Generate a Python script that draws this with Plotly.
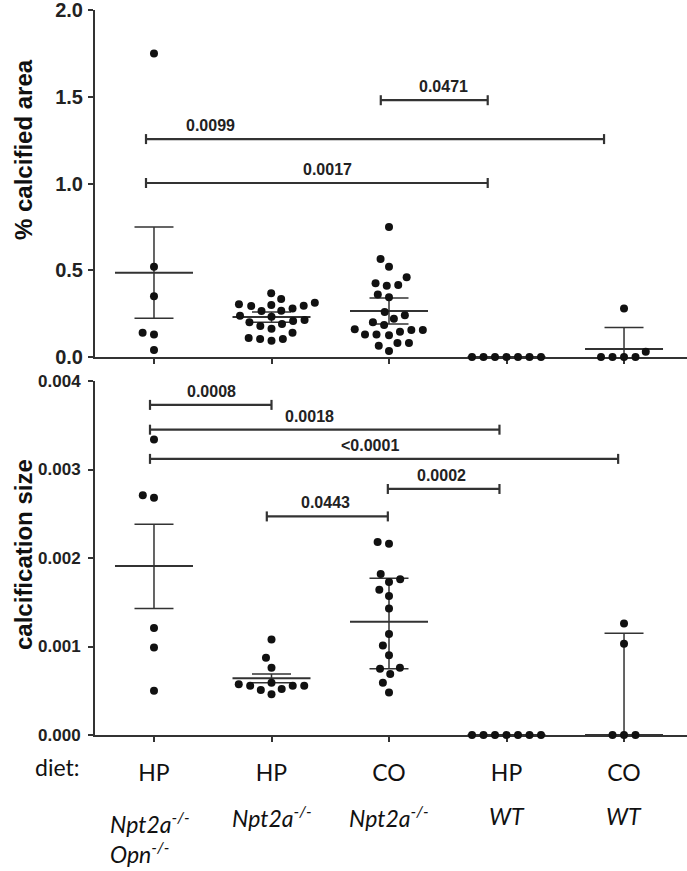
import plotly.graph_objects as go

# ---------------- data ----------------
diet_labels = ["HP", "HP", "CO", "HP", "CO"]
genotype_labels = ["<i>Npt2a<sup>-/-</sup><br>Opn<sup>-/-</sup></i>",
                   "<i>Npt2a<sup>-/-</sup></i>", "<i>Npt2a<sup>-/-</sup></i>",
                   "<i>WT</i>", "<i>WT</i>"]

area_g1 = [1.75, 0.52, 0.35, 0.14, 0.13, 0.04]
area_g2 = [0.367, 0.334, 0.313, 0.30, 0.294, 0.296, 0.304, 0.267, 0.265, 0.28, 0.238,
           0.213, 0.20, 0.232, 0.207, 0.179, 0.163, 0.19, 0.14, 0.104, 0.094, 0.104, 0.11]
area_g3 = [0.75, 0.565, 0.52, 0.46, 0.415, 0.425, 0.41, 0.36, 0.345, 0.24, 0.26, 0.22,
           0.20, 0.185, 0.155, 0.145, 0.13, 0.125, 0.13, 0.155, 0.16, 0.08, 0.065, 0.08, 0.035]
area_g4 = [0, 0, 0, 0, 0, 0, 0]
area_g5 = [0.28, 0.03, 0, 0, 0, 0]
area_values = [area_g1, area_g2, area_g3, area_g4, area_g5]
area_center = [0.486, 0.23, 0.265, 0.0, 0.046]
area_err_plus = [0.263, 0.03, 0.075, 0.0, 0.124]
area_err_minus = [0.262, 0.03, 0.075, 0.0, 0.124]
area_ticks = [0.0, 0.5, 1.0, 1.5, 2.0]

size_g1 = [0.00334, 0.00271, 0.00268, 0.00121, 0.00099, 0.00050]
size_g2 = [0.00108, 0.000874, 0.00076, 0.000573, 0.000557, 0.00052, 0.00059,
           0.000508, 0.000557, 0.000557, 0.00046]
size_g3 = [0.00218, 0.00216, 0.00182, 0.00176, 0.00173, 0.00164, 0.00157, 0.00143,
           0.00114, 0.00101, 0.00090, 0.00075, 0.00076, 0.00069, 0.00059, 0.00048]
size_g4 = [0, 0, 0, 0, 0, 0, 0]
size_g5 = [0.00126, 0.00103, 0, 0, 0]
size_values = [size_g1, size_g2, size_g3, size_g4, size_g5]
size_center = [0.00191, 0.00064, 0.00128, 0.0, 0.0]
size_err_plus = [0.00047, 0.00005, 0.00049, 0.0, 0.00115]
size_err_minus = [0.00048, 0.00005, 0.00053, 0.0, 0.0]
size_ticks = [0.0, 0.001, 0.002, 0.003, 0.004]

# comparisons: (x_start, x_end, y, label, label_x)
area_comparisons = [
    (1.93, 2.84, 1.48, "0.0471", 2.46),
    (-0.068, 3.83, 1.256, "0.0099", 0.48),
    (-0.068, 2.84, 1.003, "0.0017", 1.48),
]
size_comparisons = [
    (-0.034, 1.0, 0.00373, "0.0008", 0.49),
    (-0.034, 2.94, 0.00345, "0.0018", 1.32),
    (-0.034, 3.95, 0.00312, "&lt;0.0001", 1.84),
    (1.99, 2.94, 0.00278, "0.0002", 2.45),
    (0.96, 1.99, 0.00247, "0.0443", 1.46),
]

# ---------------- layout geometry ----------------
W, H = 687, 871
PLOT_LEFT, PLOT_RIGHT = 95, 687        # page pixels
top_y_px = (10, 357)                   # pixel rows of top plot (top, bottom)
bot_y_px = (381, 735)
ML = PLOT_LEFT
MR = W - PLOT_RIGHT
MT = top_y_px[0]
MB = H - bot_y_px[1]
plot_h = H - MT - MB
plot_w = W - ML - MR
X_RANGE = [-0.502, 4.536]
AREA_RANGE = [0, 2.0]
SIZE_RANGE = [0, 0.004]


def frac(ypx):
    return (bot_y_px[1] - ypx) / plot_h


def xfrac(xpx):
    return (xpx - PLOT_LEFT) / plot_w


top_dom = [frac(top_y_px[1]), frac(top_y_px[0])]
bot_dom = [frac(bot_y_px[1]), frac(bot_y_px[0])]
ppu_x = plot_w / (X_RANGE[1] - X_RANGE[0])
ppu_area = (top_y_px[1] - top_y_px[0]) / (AREA_RANGE[1] - AREA_RANGE[0])
ppu_size = (bot_y_px[1] - bot_y_px[0]) / (SIZE_RANGE[1] - SIZE_RANGE[0])

DOT_D = 11.5  # swarm spacing in px


def swarm_offsets(vals, ppu_y):
    order = sorted(range(len(vals)), key=lambda i: vals[i])
    placed = []
    offs = [0.0] * len(vals)
    for i in order:
        y = vals[i] * ppu_y
        forb = []
        for (px, py) in placed:
            dy = abs(py - y)
            if dy < DOT_D:
                h = (DOT_D ** 2 - dy ** 2) ** 0.5
                forb.append((px - h, px + h))
        cands = [0.0] + [a for a, b in forb] + [b for a, b in forb]
        ok = [c for c in cands if all(not (a + 1e-6 < c < b - 1e-6) for a, b in forb)]
        best = min(ok, key=lambda c: (round(abs(c), 4), c))
        placed.append((best, y))
        offs[i] = best / ppu_x
    return offs


fig = go.Figure()
INK = "#111111"
LINE = "#333333"
MEAN_HALF = 39 / ppu_x
CAP_PX = 19.5
LABEL_FONT = "Liberation Sans"
LOWER_FONT = "Lato"


def add_panel(values, center, eplus, eminus, ppu_y, xa, ya):
    xs, ys = [], []
    for gi, vals in enumerate(values):
        offs = swarm_offsets(vals, ppu_y)
        for v, o in zip(vals, offs):
            xs.append(gi + o)
            ys.append(v)
    idx = list(range(len(values)))
    fig.add_trace(go.Scatter(
        x=idx, y=center, mode="markers", marker=dict(size=0.1, color=LINE, opacity=0),
        error_x=dict(type="data", array=[MEAN_HALF] * len(idx), width=0, thickness=2, color=LINE),
        xaxis=xa, yaxis=ya, showlegend=False, hoverinfo="skip"))
    fig.add_trace(go.Scatter(
        x=idx, y=center, mode="markers", marker=dict(size=0.1, color=LINE, opacity=0),
        error_y=dict(type="data", array=eplus, arrayminus=eminus, width=CAP_PX,
                     thickness=1.5, color=LINE),
        xaxis=xa, yaxis=ya, showlegend=False, hoverinfo="skip"))
    fig.add_trace(go.Scatter(
        x=xs, y=ys, mode="markers", marker=dict(size=8, color=INK),
        cliponaxis=False, xaxis=xa, yaxis=ya, showlegend=False))


def add_brackets(comps, ppu_y, xa, ya):
    tick = 5 / ppu_y
    bx, by = [], []
    for x0, x1, y, lab, lx in comps:
        bx += [x0, x0, None, x0, x1, None, x1, x1, None]
        by += [y - tick, y + tick, None, y, y, None, y - tick, y + tick, None]
        fig.add_annotation(x=lx, y=y, xref=xa, yref=ya.replace("axis", ""),
                           text="<b>" + lab + "</b>", showarrow=False,
                           xanchor="center", yanchor="bottom", yshift=3,
                           font=dict(family=LABEL_FONT, size=16, color="#222"))
    fig.add_trace(go.Scatter(x=bx, y=by, mode="lines", line=dict(color=LINE, width=2.2),
                             xaxis=xa, yaxis=ya, showlegend=False, hoverinfo="skip",
                             cliponaxis=False))


add_panel(area_values, area_center, area_err_plus, area_err_minus, ppu_area, "x", "y")
add_panel(size_values, size_center, size_err_plus, size_err_minus, ppu_size, "x2", "y2")
add_brackets(area_comparisons, ppu_area, "x", "y")
add_brackets(size_comparisons, ppu_size, "x2", "y2")

axis_common = dict(showline=True, linewidth=2, linecolor=LINE, ticks="outside",
                   ticklen=5, tickwidth=2, tickcolor=LINE, showgrid=False,
                   zeroline=False, layer="below traces", automargin=False)

fig.update_layout(
    width=W, height=H, margin=dict(l=ML, r=MR, t=MT, b=MB, autoexpand=False),
    plot_bgcolor="white", paper_bgcolor="white",
    xaxis=dict(domain=[0, 1], range=X_RANGE, tickvals=list(range(5)),
               showticklabels=False, anchor="y", **axis_common),
    yaxis=dict(domain=top_dom, range=AREA_RANGE, tickvals=area_ticks, tickformat=".1f",
               tickfont=dict(family=LABEL_FONT, size=20, color="#222", weight="bold"),
               anchor="x", ticklabelstandoff=1, ticklabeloverflow="allow", **axis_common),
    xaxis2=dict(domain=[0, 1], range=X_RANGE, tickvals=list(range(5)),
                ticktext=diet_labels, anchor="y2", ticklabelstandoff=11,
                tickfont=dict(family=LOWER_FONT, size=23, color="#111"), **axis_common),
    yaxis2=dict(domain=bot_dom, range=SIZE_RANGE, tickvals=size_ticks, tickformat=".3f",
                tickfont=dict(family=LABEL_FONT, size=17, color="#222", weight="bold"),
                anchor="x2", ticklabelstandoff=4, ticklabeloverflow="allow", **axis_common),
)

# axis titles
fig.add_annotation(x=xfrac(23), y=frac(150), xref="paper", yref="paper",
                   xanchor="center", yanchor="middle",
                   text="<b>% calcified area</b>", textangle=-90, showarrow=False,
                   font=dict(family=LABEL_FONT, size=24, color="#111"))
fig.add_annotation(x=xfrac(23), y=frac(555), xref="paper", yref="paper",
                   xanchor="center", yanchor="middle",
                   text="<b>calcification size</b>", textangle=-90, showarrow=False,
                   font=dict(family=LABEL_FONT, size=24, color="#111"))

# diet row label
fig.add_annotation(x=xfrac(57), y=frac(767), xref="paper", yref="paper",
                   xanchor="center", yanchor="middle",
                   text="diet:", showarrow=False,
                   font=dict(family=LOWER_FONT, size=23, color="#111"))

# genotype labels
geno_y = [837, 816, 816, 816, 816]
geno_shift = [-46, 0, 0, 0, 0]
for i, lab in enumerate(genotype_labels):
    fig.add_annotation(x=i, y=frac(geno_y[i]), xref="x2", yref="paper", text=lab,
                       showarrow=False, align="left", yanchor="middle",
                       xanchor="left" if i == 0 else "center", xshift=geno_shift[i],
                       font=dict(family=LOWER_FONT, size=23, color="#111"))

fig.write_html("out.html", config={"displayModeBar": False},
               post_script="document.body.style.margin='0px';document.body.style.overflow='hidden';")
